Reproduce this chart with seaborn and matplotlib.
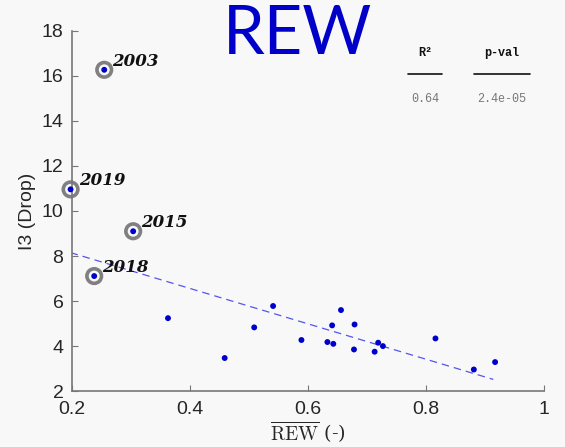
import matplotlib
matplotlib.use("Agg")
import matplotlib.pyplot as plt
import seaborn as sns
import pandas as pd
import numpy as np

# data
rew = [0.255, 0.198, 0.304, 0.238,
       0.363, 0.459, 0.509, 0.541, 0.589, 0.633,
       0.641, 0.643, 0.656, 0.679, 0.678, 0.713, 0.719, 0.727, 0.816, 0.881, 0.917]
drop = [16.27, 10.96, 9.10, 7.11,
        5.24, 3.47, 4.83, 5.78, 4.27, 4.18,
        4.92, 4.10, 5.60, 4.96, 3.85, 3.75, 4.15, 4.00, 4.34, 2.96, 3.29]
years = ["2003", "2019", "2015", "2018"] + [""] * 17
fit_x = [0.198, 0.914]
fit_y = [8.15, 2.52]
stats_names = ["R²", "p-val"]
stats_values = ["0.64", "2.4e-05"]

df = pd.DataFrame({"rew": rew, "drop": drop, "year": years})
outliers = df[df["year"] != ""]
fit = pd.DataFrame({"x": fit_x, "y": fit_y})

sns.set_style("ticks")
plt.rcParams["font.family"] = ["Liberation Sans", "DejaVu Sans"]
plt.rcParams["mathtext.fontset"] = "cm"

bg = "#f8f8f8"
fig = plt.figure(figsize=(5.65, 4.47), dpi=100, facecolor=bg)
ax = fig.add_axes([0.127, 0.125, 0.836, 0.806], facecolor=bg)

sns.lineplot(data=fit, x="x", y="y", ax=ax, color="#5555ee", lw=0.9,
             linestyle=(0, (6, 4)), zorder=1)
sns.scatterplot(data=outliers, x="rew", y="drop", ax=ax, s=110, marker="o",
                facecolor="none", edgecolor="#808080", linewidth=2.6,
                zorder=2, clip_on=False)
sns.scatterplot(data=df, x="rew", y="drop", ax=ax, s=18, color="#0000cc",
                edgecolor="none", zorder=3, clip_on=False)

for _, r in outliers.iterrows():
    ax.annotate(r["year"], (r["rew"], r["drop"]), xytext=(6, 3),
                textcoords="offset points", fontsize=12, fontweight="bold",
                fontstyle="italic", family="DejaVu Serif", color="#111111",
                annotation_clip=False)

ax.set_xlim(0.2, 1)
ax.set_ylim(2, 18)
ax.set_xticks([0.2, 0.4, 0.6, 0.8, 1.0])
ax.set_xticklabels(["0.2", "0.4", "0.6", "0.8", "1"])
ax.set_yticks(np.arange(2, 19, 2))
ax.tick_params(direction="in", length=4, width=0.8, colors="#777777",
               labelcolor="#262626", labelsize=14)
ax.tick_params(axis="x", pad=7)
ax.tick_params(axis="y", pad=6)
for side in ["top", "right"]:
    ax.spines[side].set_visible(False)
for side in ["left", "bottom"]:
    ax.spines[side].set_color("#777777")
    ax.spines[side].set_linewidth(1.2)

ax.set_xlabel(r"$\overline{\mathrm{REW}}$ (-)", fontsize=14, color="#262626",
              family="serif", labelpad=1)
ax.set_ylabel("I3 (Drop)", fontsize=14, color="#262626", labelpad=4)

fig.text(0.526, 0.99, "REW", ha="center", va="top", fontsize=48,
         color="#0000c8", family="Lato", fontweight="normal")

# stats table
for cx, name, val, half in zip([425, 502], stats_names, stats_values, [17, 28]):
    fig.text(cx / 565, 1 - 53 / 447, name, ha="center", va="center",
             family="Liberation Mono", fontweight="bold", fontsize=8.5,
             color="#111111")
    fig.add_artist(plt.Line2D([(cx - half) / 565, (cx + half) / 565],
                              [1 - 74 / 447, 1 - 74 / 447],
                              color="#111111", lw=1.2))
    fig.text(cx / 565, 1 - 99 / 447, val, ha="center", va="center",
             family="Liberation Mono", fontsize=8.5, color="#777777")

fig.savefig("out.png", dpi=100, facecolor=bg)
